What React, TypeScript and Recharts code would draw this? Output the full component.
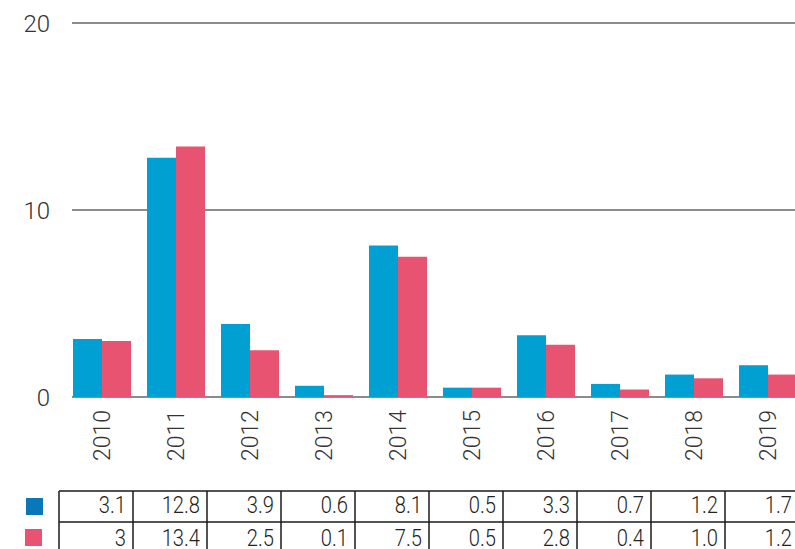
import { BarChart, Bar, XAxis, YAxis, CartesianGrid } from "recharts";

const years = ["2010", "2011", "2012", "2013", "2014", "2015", "2016", "2017", "2018", "2019"];
const seriesBlue = [3.1, 12.8, 3.9, 0.6, 8.1, 0.5, 3.3, 0.7, 1.2, 1.7];
const seriesPink = [3, 13.4, 2.5, 0.1, 7.5, 0.5, 2.8, 0.4, 1.0, 1.2];
const tableBlue = ["3.1", "12.8", "3.9", "0.6", "8.1", "0.5", "3.3", "0.7", "1.2", "1.7"];
const tablePink = ["3", "13.4", "2.5", "0.1", "7.5", "0.5", "2.8", "0.4", "1.0", "1.2"];
const yTicks = [0, 10, 20];

const data = years.map((year, i) => ({ year, a: seriesBlue[i], b: seriesPink[i] }));

const BLUE = "#00a0d2";
const PINK = "#e85372";
const LEGEND_BLUE = "#0a78b8";
const GRID = "#8c8c8c";
const FONT = "Roboto, 'Liberation Sans', Arial, sans-serif";

// layout, in page pixels (body margin removed below)
const PLOT_LEFT = 72;
const BAND = 74;
const CHART_W = 795;
const CHART_H = 477;
const TABLE_LEFT = 59;
const ROW_Y = [491, 522, 553];

function YearTick({ x, y, payload }: any) {
  return (
    <text
      x={x}
      y={y}
      transform={`rotate(-90 ${x} ${y})`}
      textAnchor="end"
      dy="0.36em"
      fontFamily={FONT}
      fontWeight={300}
      fontSize={23}
      fill="#333"
    >
      {payload.value}
    </text>
  );
}

function Cell({ x, y, value }: { x: number; y: number; value: string }) {
  return (
    <text
      transform={`translate(${x} ${y}) scale(0.84 1)`}
      textAnchor="end"
      fontFamily={FONT}
      fontWeight={300}
      fontSize={24}
      fill="#222"
    >
      {value}
    </text>
  );
}

function DataTable() {
  const right = TABLE_LEFT + BAND * years.length;
  return (
    <svg width={795} height={549} style={{ position: "absolute", left: 0, top: 0 }}>
      <rect x={26} y={498} width={17} height={17} fill={LEGEND_BLUE} />
      <rect x={25} y={529} width={17} height={17} fill={PINK} />
      {ROW_Y.map((y) => (
        <line key={y} x1={TABLE_LEFT} x2={right} y1={y} y2={y} stroke="#1a1a1a" strokeWidth={1.5} />
      ))}
      {years.map((_, i) => (
        <line
          key={i}
          x1={TABLE_LEFT + BAND * i}
          x2={TABLE_LEFT + BAND * i}
          y1={ROW_Y[0]}
          y2={ROW_Y[2]}
          stroke="#1a1a1a"
          strokeWidth={1.5}
        />
      ))}
      <line x1={right} x2={right} y1={ROW_Y[0]} y2={ROW_Y[2]} stroke="#1a1a1a" strokeWidth={1.5} />
      {tableBlue.map((v, i) => (
        <Cell key={"a" + i} x={TABLE_LEFT + BAND * (i + 1) - 7} y={513} value={v} />
      ))}
      {tablePink.map((v, i) => (
        <Cell key={"b" + i} x={TABLE_LEFT + BAND * (i + 1) - 7} y={546} value={v} />
      ))}
    </svg>
  );
}

export default function App() {
  return (
    <div style={{ position: "relative", width: 795, height: 549, overflow: "hidden", background: "#fff" }}>
      <style>{"body{margin:0}"}</style>
      <div style={{ position: "absolute", left: 0, top: 0 }}>
        <BarChart
          width={CHART_W}
          height={CHART_H}
          data={data}
          margin={{ top: 23, right: 0, bottom: 0, left: 0 }}
          barCategoryGap={8.5}
          barGap={0}
        >
          <CartesianGrid vertical={false} stroke={GRID} strokeWidth={2} />
          <XAxis
            dataKey="year"
            axisLine={false}
            tickLine={false}
            tickSize={0}
            tickMargin={13}
            height={80}
            interval={0}
            padding={{ left: -7.5, right: -9.5 }}
            tick={<YearTick />}
          />
          <YAxis
            domain={[0, 20]}
            ticks={yTicks}
            axisLine={false}
            tickLine={false}
            tickSize={0}
            tickMargin={22}
            width={PLOT_LEFT}
            tick={{ fontFamily: FONT, fontWeight: 300, fontSize: 24, fill: "#333" }}
          />
          <Bar dataKey="a" fill={BLUE} isAnimationActive={false} />
          <Bar dataKey="b" fill={PINK} isAnimationActive={false} />
        </BarChart>
      </div>
      <DataTable />
    </div>
  );
}
